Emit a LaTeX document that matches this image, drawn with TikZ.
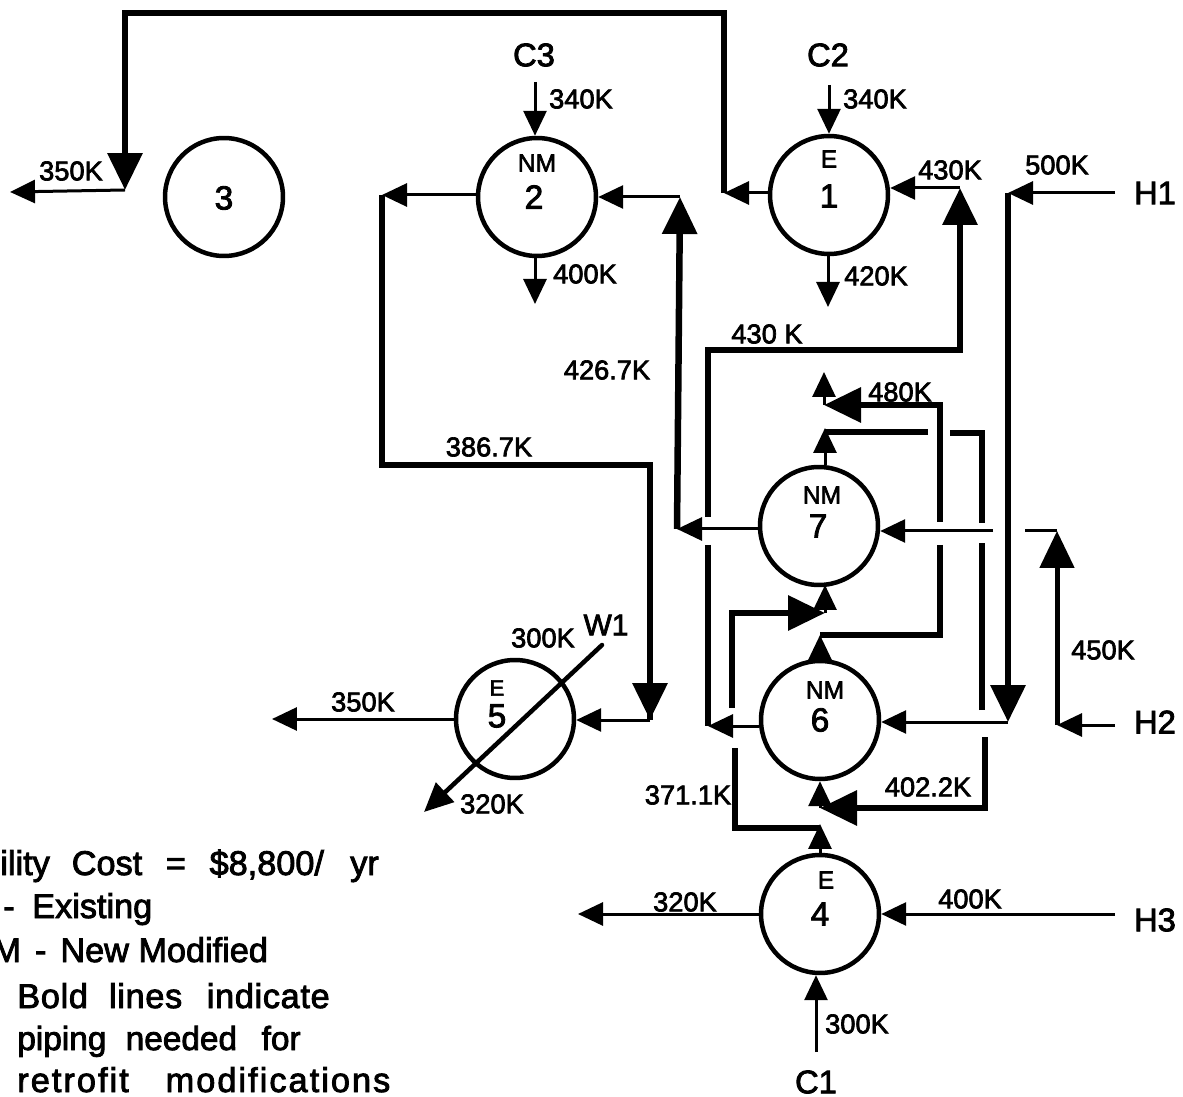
\documentclass[tikz,border=0pt]{standalone}
\usepackage{fontspec}
\setmainfont{Liberation Sans}[FakeBold=2.5]
\usetikzlibrary{arrows.meta}
\tikzset{hx/.style={draw,circle,minimum size=2.36cm,inner sep=0pt,line width=0.09cm},
  lbl/.style={inner sep=0pt,font=\fontsize{15.5}{18}\selectfont},
  sname/.style={inner sep=0pt,font=\fontsize{18.6}{22}\selectfont},
  tag/.style={inner sep=0pt,font=\fontsize{14}{16}\selectfont},
  num/.style={inner sep=0pt,font=\fontsize{19}{22}\selectfont},
  leg/.style={inner sep=0pt,anchor=base west,font=\fontsize{19.5}{23}\selectfont},
  thinarr/.style={line width=0.06cm,-{Triangle[length=0.5cm,width=0.46cm]}},
  thinline/.style={line width=0.06cm},
  boldline/.style={line width=0.13cm,line join=miter},
  boldarr/.style={boldline,-{Triangle[length=0.74cm,width=0.68cm]}},
  medarr/.style={line width=0.1cm,-{Triangle[length=0.74cm,width=0.68cm]}},
  wiarr/.style={line width=0.09cm,line cap=round,-{Triangle[length=0.58cm,width=0.52cm]}}}
\begin{document}
\begin{tikzpicture}[x=0.02cm,y=-0.02cm]
\useasboundingbox (0,0) rectangle (1183,1097);
% exchangers
\node[hx] (n3) at (224,197) {};
\node[hx] (n2) at (537,197) {};
\node[hx] (n1) at (829,195) {};
\node[hx] (n7) at (819,526) {};
\node[hx] (n6) at (820,720) {};
\node[hx] (n4) at (820,914) {};
\node[hx] (n5) at (515,719) {};
\node[num] (t3) at (224,198) {3};
\node[tag] (e2) at (537,163) {NM};
\node[num] (t2) at (534,197) {2};
\node[tag] (e1) at (829,159) {E};
\node[num] (t1) at (829,196) {1};
\node[tag] (e7) at (822,495) {NM};
\node[num] (t7) at (818,526) {7};
\node[tag] (e6) at (825,690) {NM};
\node[num] (t6) at (820,720) {6};
\node[tag] (e4) at (826,880) {E};
\node[num] (t4) at (820,914) {4};
\node[tag,font=\fontsize{12.5}{14}\selectfont] (e5) at (497,688) {E};
\node[num] (t5) at (497,716) {5};
% stream names
\node[sname] (c3) at (534,55) {C3};
\node[sname] (c2) at (828,55) {C2};
\node[sname] (c1) at (816,1082) {C1};
\node[sname] (h1) at (1155,193) {H1};
\node[sname] (h2) at (1155,722) {H2};
\node[sname] (h3) at (1155,920) {H3};
\node[sname,font=\fontsize{17}{20}\selectfont] (w1) at (606,625) {W1};
% temperatures
\node[lbl] (l1) at (71,171) {350K};
\node[lbl] (l2) at (581,99) {340K};
\node[lbl] (l3) at (875,99) {340K};
\node[lbl] (l4) at (950,170) {430K};
\node[lbl] (l5) at (1057,165) {500K};
\node[lbl] (l6) at (585,274) {400K};
\node[lbl] (l7) at (876,276) {420K};
\node[lbl] (l8) at (767,334) {430 K};
\node[lbl] (l9) at (607,370) {426.7K};
\node[lbl] (l10) at (900,392) {480K};
\node[lbl] (l11) at (489,447) {386.7K};
\node[lbl] (l12) at (543,638) {300K};
\node[lbl] (l13) at (1103,650) {450K};
\node[lbl] (l14) at (363,702) {350K};
\node[lbl] (l15) at (688,795) {371.1K};
\node[lbl] (l16) at (928,787) {402.2K};
\node[lbl] (l17) at (492,804) {320K};
\node[lbl] (l18) at (970,899) {400K};
\node[lbl] (l19) at (685,902) {320K};
\node[lbl] (l20) at (857,1024) {300K};
% legend
\node[leg] (leg1) at (0,875) {ility\hspace{12.5pt}Cost\hspace{13.5pt}=\hspace{13.5pt}\$8,800/\hspace{15pt}yr};
\node[leg] (leg2) at (3,918) {-\hspace{10pt}Existing};
\node[leg] (leg3) at (-8,962) {M\hspace{8pt}-\hspace{8pt}New Modified};
\node[leg,font=\fontsize{19.5}{23}\selectfont\addfontfeatures{LetterSpace=2}] (leg4) at (17,1008) {Bold\hspace{12pt}lines\hspace{14pt}indicate};
\node[leg,font=\fontsize{19}{23}\selectfont] (leg5) at (17,1050) {piping\hspace{11pt}needed\hspace{14pt}for};
\node[leg,font=\fontsize{19.5}{23}\selectfont\addfontfeatures{LetterSpace=6}] (leg6) at (17,1092) {retrofit\hspace{21pt}modifications};
% free ends and bends
\coordinate (c3in) at (535,82);
\coordinate (c2in) at (829,85);
\coordinate (n2out) at (535,304);
\coordinate (n1out) at (828,307);
\coordinate (topa) at (724,193);
\coordinate (topb) at (724,13);
\coordinate (topc) at (125,13);
\coordinate (topd) at (125,190);
\coordinate (hotout) at (10,192);
\coordinate (wa) at (382,195);
\coordinate (wb) at (382,465);
\coordinate (wc) at (650,465);
\coordinate (wd) at (650,720);
\coordinate (sa) at (680,197);
\coordinate (sb) at (677,529);
\coordinate (ra) at (960,188);
\coordinate (rb) at (960,350);
\coordinate (rc) at (708,350);
\coordinate (rd) at (708,517);
\coordinate (re) at (708,545);
\coordinate (rf) at (708,726);
\coordinate (ua) at (732,708);
\coordinate (ub) at (732,613);
\coordinate (uc) at (825,613);
\coordinate (ud) at (825,585);
\coordinate (va) at (735,748);
\coordinate (vb) at (735,828);
\coordinate (vc) at (820,828);
\coordinate (vt) at (820,824);
\coordinate (xa) at (820,808);
\coordinate (xb) at (985,808);
\coordinate (xc) at (985,737);
\coordinate (ya) at (982,710);
\coordinate (yb) at (982,543);
\coordinate (yc) at (982,523);
\coordinate (yd) at (982,433);
\coordinate (ye) at (950,433);
\coordinate (yf) at (928,432);
\coordinate (yg) at (825,432);
\coordinate (ym) at (825,428);
\coordinate (za) at (824,405);
\coordinate (zb) at (824,372);
\coordinate (zc) at (940,405);
\coordinate (zd) at (940,522);
\coordinate (ze) at (940,545);
\coordinate (zf) at (940,635);
\coordinate (zg) at (820,635);
\coordinate (ha) at (993,531);
\coordinate (hb) at (1025,531);
\coordinate (hc) at (1057,531);
\coordinate (hd) at (1057,725);
\coordinate (ka) at (1008,193);
\coordinate (kb) at (1008,722);
\coordinate (wia) at (602,645);
\coordinate (wib) at (424,812);
\coordinate (n5out) at (272,716);
\coordinate (n4out) at (578,914);
\coordinate (c1in) at (816,1052);
\coordinate (h1in) at (1115,193);
\coordinate (h2in) at (1115,725);
\coordinate (h3in) at (1115,914);
% thin streams
\draw[thinarr] (c3in)--(n2.north-|c3in);
\draw[thinarr] (c2in)--(n1.north-|c2in);
\draw[thinarr] (n2.south-|n2out)--(n2out);
\draw[thinarr] (n1.south-|n1out)--(n1out);
\draw[thinarr] (n2.west|-wa)--(wa);
\draw[thinarr] (sa)--(n2.east);
\draw[thinarr] (n1.west|-topa)--(topa);
\draw[thinarr] (ra)--(n1.east|-ra);
\draw[thinarr] (topd)--(hotout);
\draw[thinarr] (h1in)--(ka);
\draw[thinarr] (ha)--(n7.east|-ha);
\draw[thinline] (hb)--(hc);
\draw[thinarr] (n7.west|-sb)--(sb);
\draw[thinarr] (n6.west|-rf)--(rf);
\draw[thinarr] (kb)--(n6.east|-kb);
\draw[thinarr] (h2in)--(hd);
\draw[thinarr] (h3in)--(n4.east);
\draw[thinarr] (n4.west)--(n4out);
\draw[thinarr] (c1in)--(n4.south-|c1in);
\draw[thinarr] (n5.west)--(n5.west-|n5out);
\draw[thinarr] (wd)--(n5.east|-wd);
\draw[wiarr] (wia)--(wib);
\draw[thinarr] (n4.north)--(vt);
\draw[thinarr] (xa)--(n6.south);
\draw[thinarr] (n6.north)--(zg);
\draw[thinarr] (uc)--(ud);
\draw[thinarr] (n7.north-|ym)--(ym);
\draw[thinarr] (za)--(zb);
% piping added for the retrofit
\draw[boldarr] (topa)--(topb)--(topc)--(topd);
\draw[boldline] (wa)--(wb)--(wc)--(wd);
\draw[boldarr] (wc)--(wd);
\draw[boldarr] (sb)--(sa);
\draw[boldarr] (rd)--(rc)--(rb)--(ra);
\draw[boldline] (re)--(rf);
\draw[boldarr] (ua)--(ub)--(uc);
\draw[boldline] (va)--(vb)--(vc);
\draw[boldarr] (xc)--(xb)--(xa);
\draw[boldline] (ya)--(yb);
\draw[boldline] (yc)--(yd)--(ye);
\draw[boldline] (yf)--(yg);
\draw[boldarr] (zd)--(zc)--(za);
\draw[boldline] (ze)--(zf)--(zg);
\draw[boldarr] (ka)--(kb);
\draw[medarr] (hd)--(hc);
\end{tikzpicture}
\end{document}
